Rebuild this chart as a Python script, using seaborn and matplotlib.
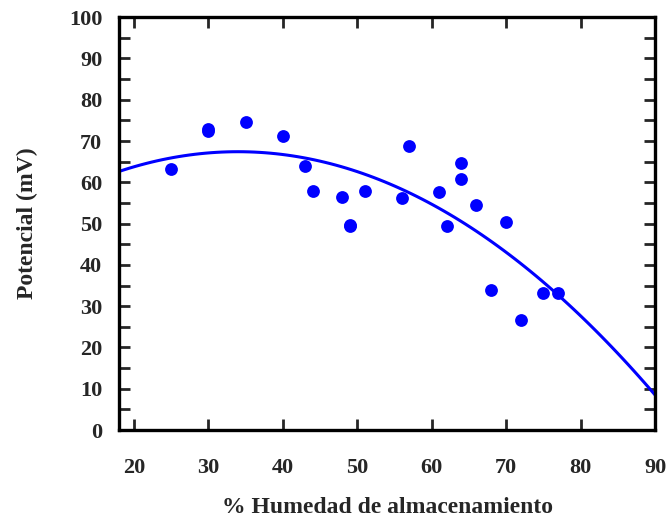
import matplotlib
matplotlib.use("Agg")
import matplotlib.pyplot as plt
import pandas as pd
import seaborn as sns

# Humedad de almacenamiento (%) y potencial (mV)
humedad = [25, 30, 30, 35, 40, 43, 44, 48, 49, 49, 51, 56, 57, 61, 62, 64,
           64, 66, 68, 70, 72, 75, 77]
potencial = [63.2, 72.5, 72.8, 74.6, 71.2, 63.9, 57.9, 56.5, 49.4, 49.6, 58.0,
             56.2, 68.8, 57.7, 49.3, 64.6, 60.8, 54.6, 33.9, 50.4, 26.6, 33.2,
             33.2]

# puntos leídos sobre la curva de ajuste (parábola) del gráfico
curva_x = [18, 24, 30, 34, 40, 46, 52, 58, 64, 70, 76, 82, 90]
curva_y = [62.7, 65.5, 67.1, 67.4, 66.7, 64.7, 61.3, 56.6, 50.5, 43.1, 34.3,
           24.1, 8.5]

x_ticks = [20, 30, 40, 50, 60, 70, 80, 90]
y_ticks = list(range(0, 101, 10))

df = pd.DataFrame({"humedad": humedad, "potencial": potencial})
curva = pd.DataFrame({"humedad": curva_x, "potencial": curva_y})

sns.set_style("ticks")
plt.rcParams["font.family"] = ["Liberation Serif", "DejaVu Serif"]
plt.rcParams["font.weight"] = "bold"

fig = plt.figure(figsize=(6.66, 5.2), dpi=100)
ax = fig.add_axes([0.1787, 0.173, 0.8048, 0.794])

sns.regplot(data=curva, x="humedad", y="potencial", order=2, ci=None,
            scatter=False, ax=ax, color="#0000ff", line_kws={"lw": 2.2})
sns.scatterplot(data=df, x="humedad", y="potencial", ax=ax, color="#0000ff",
                s=85, linewidth=0, zorder=3)

ax.set_xlim(18, 90)
ax.set_ylim(0, 100)
ax.set_xticks(x_ticks)
ax.set_yticks(y_ticks)
ax.set_yticks(range(5, 100, 10), minor=True)

ax.tick_params(axis="both", which="both", direction="in", top=True,
               right=True, width=2, labelsize=16)
ax.tick_params(axis="both", which="major", length=8)
ax.tick_params(axis="y", which="minor", length=8)
ax.tick_params(axis="x", pad=20)
ax.tick_params(axis="y", pad=12)
for lab in ax.get_xticklabels() + ax.get_yticklabels():
    lab.set_fontweight("bold")

for sp in ax.spines.values():
    sp.set_linewidth(2.4)
    sp.set_color("black")

ax.set_xlabel("% Humedad de almacenamiento", fontsize=17, fontweight="bold",
              labelpad=14)
ax.set_ylabel("Potencial (mV)", fontsize=17, fontweight="bold", labelpad=22)

fig.savefig("out.png", dpi=100)
